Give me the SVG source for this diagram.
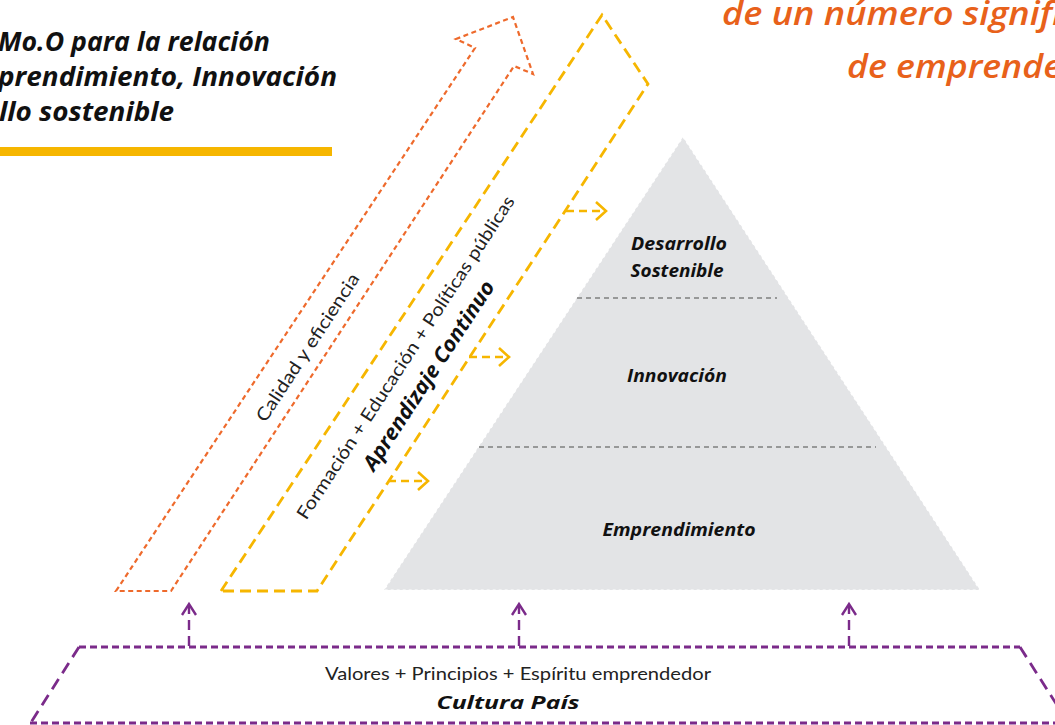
<svg xmlns="http://www.w3.org/2000/svg" width="1055" height="725" viewBox="0 0 1055 725">
<defs>
<style>
.title{font-family:"Open Sans",Lato,"Liberation Sans",sans-serif;font-weight:700;font-style:italic;font-size:27px;fill:#111}
.orangeT{font-family:"Open Sans",Lato,"Liberation Sans",sans-serif;font-weight:600;font-style:italic;font-size:32px;fill:#e8611a}
.lbl{font-family:"Open Sans",Lato,"Liberation Sans",sans-serif;font-weight:700;font-style:italic;font-size:18px;fill:#111}
.reg{font-family:Lato,"Open Sans","Liberation Sans",sans-serif;font-weight:400;font-size:18px;fill:#222}
.orng{fill:none;stroke:#ee6a2c;stroke-width:2.2;stroke-dasharray:5 3.5;stroke-linejoin:miter}
.yel{fill:none;stroke:#f6b600;stroke-width:2.8;stroke-dasharray:11 6}
.yarrow{fill:none;stroke:#f6b600;stroke-width:2.6;stroke-dasharray:8 5}
.yhead{fill:none;stroke:#f6b600;stroke-width:2.6}
.pur{fill:none;stroke:#7b2b8a;stroke-width:2.8}
.parrow{fill:none;stroke:#7b2b8a;stroke-width:2.4;stroke-dasharray:10 6}
.phead{fill:none;stroke:#7b2b8a;stroke-width:2.4}
.sep{stroke:#7f7f7f;stroke-width:1.3;stroke-dasharray:5 4}
</style>
</defs>
<rect width="1055" height="725" fill="#fff"/>

<g id="title">
<text class="title" x="270" y="51" text-anchor="end" textLength="272" lengthAdjust="spacingAndGlyphs">Mo.O para la relación</text>
<text class="title" x="337" y="86" text-anchor="end" textLength="339" lengthAdjust="spacingAndGlyphs">prendimiento, Innovación</text>
<text class="title" x="174" y="121" text-anchor="end" textLength="175" lengthAdjust="spacingAndGlyphs">llo sostenible</text>
<rect x="0" y="147" width="332" height="9" fill="#f6b600"/>
</g>

<g id="orange-heading">
<text class="orangeT" x="722" y="25" textLength="340" lengthAdjust="spacingAndGlyphs">de un número signifi</text>
<text class="orangeT" x="847" y="78" textLength="215" lengthAdjust="spacingAndGlyphs">de emprende</text>
</g>

<g id="pyramid">
<polygon points="683,137 980,590 384,590" fill="#e3e4e6" stroke="#ffffff" stroke-width="1.2" stroke-dasharray="3 3"/>
<line class="sep" x1="577" y1="298" x2="777" y2="298"/>
<line class="sep" x1="479" y1="447" x2="876" y2="447"/>
</g>

<g id="node-desarrollo">
<text class="lbl" x="679" y="250" text-anchor="middle" textLength="96" lengthAdjust="spacingAndGlyphs">Desarrollo</text>
<text class="lbl" x="677" y="277" text-anchor="middle" textLength="93" lengthAdjust="spacingAndGlyphs">Sostenible</text>
</g>
<g id="node-innovacion">
<text class="lbl" x="677" y="382" text-anchor="middle" textLength="100" lengthAdjust="spacingAndGlyphs">Innovación</text>
</g>
<g id="node-emprendimiento">
<text class="lbl" x="679" y="536" text-anchor="middle" textLength="153" lengthAdjust="spacingAndGlyphs">Emprendimiento</text>
</g>

<g id="arrow-calidad">
<polygon class="orng" points="116,591 475,48 456,39 513,17 533,74 514,66 171,591"/>
<text class="reg" transform="translate(307,347) rotate(-56.8)" text-anchor="middle" dominant-baseline="central" textLength="173" lengthAdjust="spacingAndGlyphs">Calidad y eficiencia</text>
</g>

<g id="arrow-aprendizaje">
<polygon class="yel" points="221,591 602,15 648,84 317,591"/>
<text class="reg" transform="translate(405,357) rotate(-56.8)" text-anchor="middle" dominant-baseline="central" textLength="382" lengthAdjust="spacingAndGlyphs">Formación + Educación + Políticas públicas</text>
<text class="lbl" style="font-size:21px" transform="translate(428,375) rotate(-56.8)" text-anchor="middle" dominant-baseline="central" textLength="222" lengthAdjust="spacingAndGlyphs">Aprendizaje Continuo</text>
</g>

<g id="node-cultura">
<path class="pur" stroke-dasharray="7 4" d="M79,647 L1020,647"/>
<path class="pur" stroke-dasharray="12 7" d="M79,647 L30,724"/>
<path class="pur" stroke-dasharray="12 7" d="M1020,647 L1069,724"/>
<path class="pur" stroke-dasharray="7 4" d="M30,723 L1069,723"/>
<text class="reg" x="518" y="680" text-anchor="middle" textLength="386" lengthAdjust="spacingAndGlyphs">Valores + Principios + Espíritu emprendedor</text>
<text class="lbl" x="508" y="709" text-anchor="middle" textLength="143" lengthAdjust="spacingAndGlyphs">Cultura País</text>
</g>

<g id="connectors">
<line class="yarrow" x1="566" y1="211" x2="604" y2="211"/>
<polyline class="yhead" points="596,202 606,211 596,220"/>
<line class="yarrow" x1="469" y1="357" x2="507" y2="357"/>
<polyline class="yhead" points="499,348 509,357 499,366"/>
<line class="yarrow" x1="388" y1="481" x2="426" y2="481"/>
<polyline class="yhead" points="418,472 428,481 418,490"/>

<line class="parrow" x1="189" y1="646" x2="189" y2="606"/>
<polyline class="phead" points="182,615 189,604 196,615"/>
<line class="parrow" x1="519" y1="646" x2="519" y2="606"/>
<polyline class="phead" points="512,615 519,604 526,615"/>
<line class="parrow" x1="849" y1="646" x2="849" y2="606"/>
<polyline class="phead" points="842,615 849,604 856,615"/>
</g>
</svg>
